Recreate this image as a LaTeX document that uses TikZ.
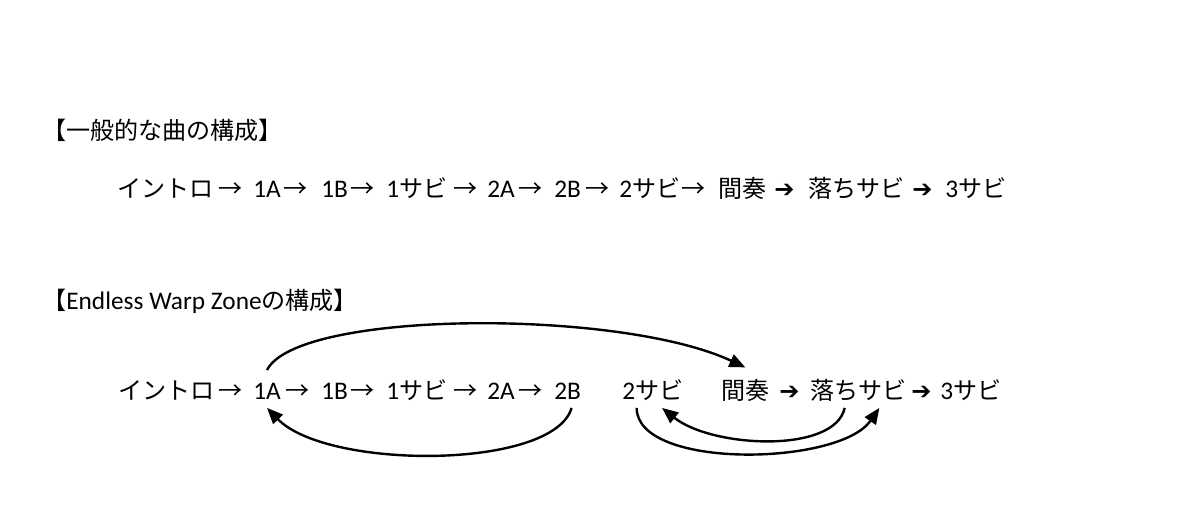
\documentclass[tikz,border=0pt]{standalone}
\usepackage{fontspec}
\setmainfont{Carlito}
\newfontfamily\jp[Scale=0.95]{Noto Sans CJK JP}
\newfontfamily\sym[Scale=0.95]{DejaVu Sans}
\usetikzlibrary{arrows.meta}

\tikzset{
  part/.style={anchor=base west, inner xsep=0pt, inner ysep=3.5pt, text height=12pt, text depth=3pt, font=\fontsize{19}{23}\selectfont},
  warp/.style={-{Triangle[length=12pt,width=10pt]}, line width=1.8pt},
}

\begin{document}
\begin{tikzpicture}[x=0.75pt, y=-0.75pt]
    \useasboundingbox (0,0) rectangle (1200,532);
    % Titles
    \node[part] (t1) at (42,139) {\jp 【一般的な曲の構成】};
    \node[part] (t2) at (42,309) {{\jp 【}Endless Warp Zone{\jp の構成】}};

    % General order
    \node[part] (r1intro) at (117,197) {\jp イントロ};
    \node[part] (r1x1) at (218,197) {\jp →};
    \node[part] (r1a1) at (253,197) {1A};
    \node[part] (r1x2) at (283,197) {\jp →};
    \node[part] (r1b1) at (321,197) {1B};
    \node[part] (r1x3) at (350,197) {\jp →};
    \node[part] (r1s1) at (386,197) {1{\jp サビ}};
    \node[part] (r1x4) at (453,197) {\jp →};
    \node[part] (r1a2) at (487,197) {2A};
    \node[part] (r1x5) at (518,197) {\jp →};
    \node[part] (r1b2) at (554,197) {2B};
    \node[part] (r1x6) at (585,197) {\jp →};
    \node[part] (r1s2) at (619,197) {2{\jp サビ}};
    \node[part] (r1x7) at (681,197) {\jp →};
    \node[part] (r1kan) at (718,197) {\jp 間奏};
    \node[part] (r1x8) at (774,197) {\sym ➔};
    \node[part] (r1ochi) at (808,197) {\jp 落ちサビ};
    \node[part] (r1x9) at (912,197) {\sym ➔};
    \node[part] (r1s3) at (945,197) {3{\jp サビ}};

    % Endless Warp Zone order
    \node[part] (r2intro) at (118,399) {\jp イントロ};
    \node[part] (r2x1) at (218,399) {\jp →};
    \node[part] (r2a1) at (253,399) {1A};
    \node[part] (r2x2) at (285,399) {\jp →};
    \node[part] (r2b1) at (321,399) {1B};
    \node[part] (r2x3) at (350,399) {\jp →};
    \node[part] (r2s1) at (386,399) {1{\jp サビ}};
    \node[part] (r2x4) at (453,399) {\jp →};
    \node[part] (r2a2) at (487,399) {2A};
    \node[part] (r2x5) at (518,399) {\jp →};
    \node[part] (r2b2) at (554,399) {2B};
    \node[part] (r2s2) at (622,399) {2{\jp サビ}};
    \node[part] (r2kan) at (721,399) {\jp 間奏};
    \node[part] (r2x8) at (779,399) {\sym ➔};
    \node[part] (r2ochi) at (810,399) {\jp 落ちサビ};
    \node[part] (r2x9) at (911,399) {\sym ➔};
    \node[part] (r2s3) at (940,399) {3{\jp サビ}};

    % Warps
    \draw[warp] ([yshift=6pt]r2a1.north) .. controls +(30,-60) and +(-126,-59) .. ([yshift=8pt]r2kan.north);
    \draw[warp] ([xshift=3pt]r2b2.south) .. controls +(-18,62) and +(60,62) .. (r2a1.south);
    \draw[warp] ([xshift=26pt]r2ochi.south west) .. controls +(-10,46) and +(50,40) .. ([xshift=7pt]r2s2.south);
    \draw[warp] ([xshift=11pt]r2s2.south west) .. controls +(0,62) and +(-40,58) .. ([xshift=52pt]r2ochi.south west);
\end{tikzpicture}
\end{document}
